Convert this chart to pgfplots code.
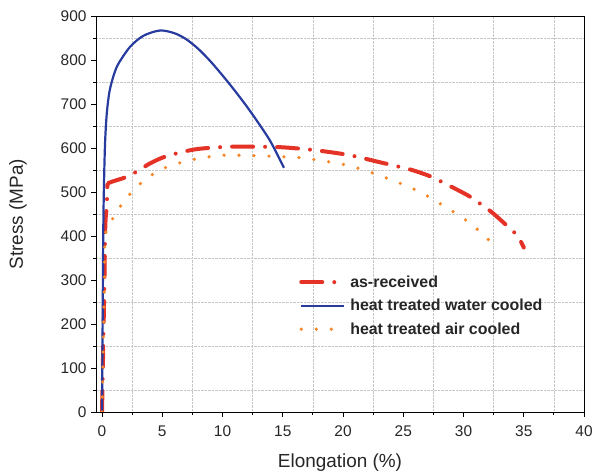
\documentclass[border=0pt]{standalone}
\usepackage{pgfplots}
\pgfplotsset{compat=1.18}
\usepackage{fontspec}
\setmainfont{Liberation Sans}
\definecolor{cred}{RGB}{228,50,38}
\definecolor{cblue}{RGB}{40,60,160}
\definecolor{corange}{RGB}{245,135,40}
\begin{document}
\begin{tikzpicture}
\useasboundingbox (-96bp,-61bp) rectangle (503bp,412bp);
\begin{axis}[
  scale only axis,
  width=488bp, height=396bp,
  xmin=-0.5, xmax=40, ymin=0, ymax=900,
  xtick={0,5,...,40}, ytick={0,100,...,900},
  minor x tick num=1, minor y tick num=1,
  minor grid style={densely dotted, gray!45, line width=0.6bp},
  xminorgrids, yminorgrids,
  tick align=outside,
  xtick pos=left, ytick pos=left,
  major tick length=5bp, minor tick length=3bp,
  every tick/.style={black, line width=0.8bp},
  axis line style={line width=0.9bp},
  /pgf/number format/assume math mode=true,
  ticklabel style={font=\fontsize{15.5}{18}\selectfont, text=black!85},
  xticklabel style={yshift=-5bp},
  yticklabel style={xshift=-1bp},
  xlabel={Elongation (\%)}, ylabel={Stress (MPa)},
  label style={font=\fontsize{19}{22}\selectfont, text=black!85},
  xlabel style={at={(axis description cs:0.5,0)}, anchor=center, yshift=-51bp},
  ylabel style={at={(axis description cs:0,0.5)}, anchor=center, rotate=0, yshift=78bp},
  legend style={draw=none, fill=none, at={(axis description cs:0.41,0.355)}, anchor=north west,
    font=\bfseries\fontsize{16}{19}\selectfont, row sep=6.5bp, text=black!85},
  legend cell align=left,
  legend image code/.code={\draw[#1] (0bp,0bp) -- (43bp,0bp);},
  every axis legend/.append style={nodes={inner xsep=4bp}},
]
\addplot[cred, line width=4bp, line cap=round, smooth, tension=0.4, dash pattern=on 21bp off 12bp on 0bp off 12bp] coordinates {
(0,0) (0.1,150) (0.2,300) (0.25,400) (0.3,440) (0.4,470) (0.45,516) (0.7,522) (1.0,525)
(1.9,533) (3,548) (3.85,563) (5,578) (6.5,590) (8,598) (10.6,603) (14.7,602) (17.7,595)
(20.5,584) (23,568) (25.6,551) (27.3,535) (28.7,516) (30.5,490) (32.3,455) (33.7,421)
(34.5,400) (35,374)
};
\addlegendentry{as-received}
\addplot[cblue, line width=2.2bp, smooth, tension=0.5] coordinates {
(0,0) (0.05,200) (0.1,400) (0.15,500) (0.25,610) (0.4,680) (0.63,730) (1.0,768) (1.37,792)
(2.33,830) (3.43,855) (4.8,867) (6,861) (7,847) (8,825) (9,797) (10,765) (11,731) (12,695)
(13,656) (14,614) (15.1,555)
};
\addlegendentry{heat treated water cooled}
\addplot[corange, line width=3.6bp, line cap=round, smooth, tension=0.4, dash pattern=on 0bp off 15bp] coordinates {
(0,0) (0.1,150) (0.2,300) (0.25,400) (0.68,429) (1.3,459) (2.06,487) (2.75,508) (3.7,531)
(4.8,550) (6.05,563) (7.4,573) (8.9,580) (10.3,584) (12,583) (13.55,582) (15.1,580)
(16.5,578) (18.5,570) (20.5,560) (22.7,541) (24.9,518) (26.5,499) (27.4,484) (28.7,463)
(30.0,440) (31.2,414) (32.4,383)
};
\addlegendentry{heat treated air cooled}
\end{axis}
\end{tikzpicture}
\end{document}
